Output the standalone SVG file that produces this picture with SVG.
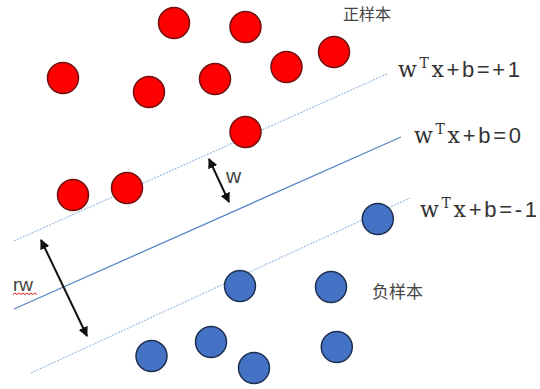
<svg xmlns="http://www.w3.org/2000/svg" width="540" height="389" viewBox="0 0 540 389">
<defs>
<style>
.pos{fill:#FF0000;stroke:#6E1010;stroke-width:1.5}
.neg{fill:#4472C4;stroke:#1E2F4F;stroke-width:1.5}
.margin{stroke:#9DBDE3;stroke-width:1.2;stroke-dasharray:2 1.2;fill:none}
.hyper{stroke:#5A86C8;stroke-width:1.3;fill:none}
.arr{stroke:#111;stroke-width:2;fill:none;marker-start:url(#ah);marker-end:url(#ah)}
.lbl{font-family:"Liberation Sans","Noto Sans CJK SC",sans-serif;fill:#444}
.eq{font-size:22px;fill:#333}
</style>
<marker id="ah" viewBox="0 0 10 10" refX="9" refY="5" markerWidth="5" markerHeight="5" orient="auto-start-reverse" markerUnits="strokeWidth">
<path d="M0,0 L10,5 L0,10 z" fill="#111"/>
</marker>
</defs>
<rect width="540" height="389" fill="#fff"/>
<g id="connectors">
<line class="margin" x1="14" y1="241" x2="387" y2="74"/>
<line class="hyper" x1="14" y1="309" x2="401" y2="137"/>
<line class="margin" x1="31" y1="373" x2="410" y2="198"/>
<line class="arr" x1="209" y1="159" x2="229" y2="202"/>
<line class="arr" x1="41" y1="240" x2="87" y2="336"/>
</g>
<g id="positive">
<circle class="pos" cx="174" cy="23" r="15.5"/>
<circle class="pos" cx="245.5" cy="27" r="15.5"/>
<circle class="pos" cx="334" cy="52" r="15.5"/>
<circle class="pos" cx="286.5" cy="67" r="15.5"/>
<circle class="pos" cx="63" cy="78" r="15.5"/>
<circle class="pos" cx="215" cy="79" r="15.5"/>
<circle class="pos" cx="149" cy="92" r="15.5"/>
<circle class="pos" cx="245.5" cy="132" r="15.5"/>
<circle class="pos" cx="73" cy="195" r="15.5"/>
<circle class="pos" cx="127" cy="188" r="15.5"/>
</g>
<g id="negative">
<circle class="neg" cx="377.8" cy="219" r="15.5"/>
<circle class="neg" cx="240" cy="286" r="15.5"/>
<circle class="neg" cx="331" cy="287" r="15.5"/>
<circle class="neg" cx="211" cy="342" r="15.5"/>
<circle class="neg" cx="151.5" cy="356" r="15.5"/>
<circle class="neg" cx="336.8" cy="347" r="15.5"/>
<circle class="neg" cx="254" cy="368" r="15.5"/>
</g>
<g id="labels">
<text class="lbl" x="343" y="20" font-size="16">正样本</text>
<text class="lbl" x="372" y="298" font-size="17">负样本</text>
<text class="lbl" x="226" y="183" font-size="21">w</text>
<text class="lbl" x="13" y="291" font-size="19">rw</text>
<path d="M13,294.5 l2,-1.5 l2,1.5 l2,-1.5 l2,1.5 l2,-1.5 l2,1.5 l2,-1.5 l2,1.5 l2,-1.5 l2,1.5 l2,-1.5 l2,1.5" fill="none" stroke="#E02020" stroke-width="1"/>
</g>
<g id="equations">
<text class="eq" x="398" y="77" textLength="122" lengthAdjust="spacing"><tspan font-family="DejaVu Serif, serif">w</tspan><tspan font-family="DejaVu Serif, serif" font-size="14" dy="-9">T</tspan><tspan font-family="DejaVu Serif, serif" dy="9">x</tspan><tspan font-family="Liberation Sans, sans-serif">+b=+1</tspan></text>
<text class="eq" x="414" y="143" textLength="107" lengthAdjust="spacing"><tspan font-family="DejaVu Serif, serif">w</tspan><tspan font-family="DejaVu Serif, serif" font-size="14" dy="-9">T</tspan><tspan font-family="DejaVu Serif, serif" dy="9">x</tspan><tspan font-family="Liberation Sans, sans-serif">+b=0</tspan></text>
<text class="eq" x="420" y="217" textLength="117" lengthAdjust="spacing"><tspan font-family="DejaVu Serif, serif">w</tspan><tspan font-family="DejaVu Serif, serif" font-size="14" dy="-9">T</tspan><tspan font-family="DejaVu Serif, serif" dy="9">x</tspan><tspan font-family="Liberation Sans, sans-serif">+b=-1</tspan></text>
</g>
</svg>
